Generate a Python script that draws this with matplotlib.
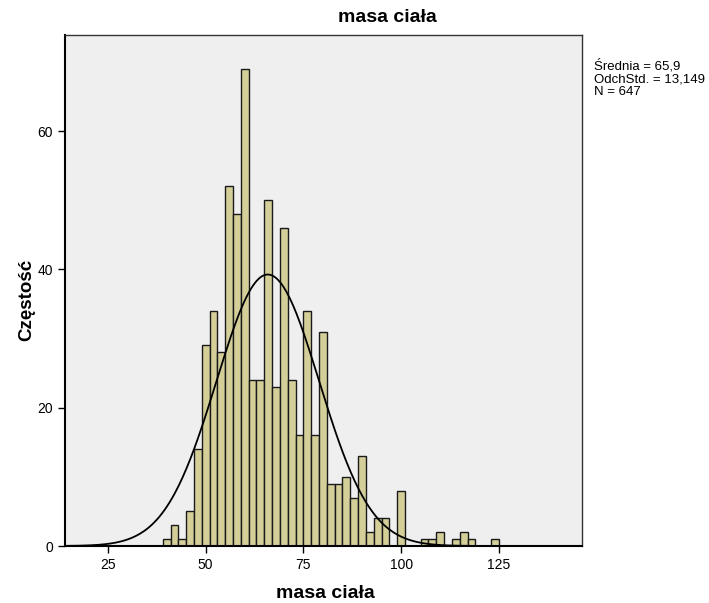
import numpy as np
import matplotlib.pyplot as plt

plt.rcParams['font.family'] = ['Liberation Sans', 'DejaVu Sans']

# histogram of body mass, bins 2 kg wide starting at 39
bin_edges = np.arange(39, 127, 2)
counts = [1, 3, 1, 5, 14, 29, 34, 28, 52, 48, 69, 24, 24, 50, 23, 46, 24, 16,
          34, 16, 31, 9, 9, 10, 7, 13, 2, 4, 4, 0, 8, 0, 0, 1, 1, 2, 0, 1, 2,
          1, 0, 0, 1]
mean = 65.9
std = 13.149
n = 647
xticks = [25, 50, 75, 100, 125]
yticks = [0, 20, 40, 60]

W, H = 709, 603
fig = plt.figure(figsize=(W / 100, H / 100), dpi=100)
fig.patch.set_facecolor('white')
left, right, top, bottom = 65, 582, 35, 546
ax = fig.add_axes([left / W, 1 - bottom / H, (right - left) / W, (bottom - top) / H])
ax.set_facecolor('#efefef')

ax.bar(bin_edges[:-1], counts, width=2, align='edge', color='#d4cf99',
       edgecolor='#1a1a1a', linewidth=1.0)

xs = np.linspace(14, 146, 400)
pdf = n * 2 / (std * np.sqrt(2 * np.pi)) * np.exp(-0.5 * ((xs - mean) / std) ** 2)
ax.plot(xs, pdf, color='black', linewidth=1.3)

ax.set_xlim(14, 146.3)
ax.set_ylim(0, 73.9)
ax.set_xticks(xticks)
ax.set_yticks(yticks)
ax.tick_params(axis='both', direction='out', length=5, width=1, labelsize=10,
               colors='black')
for s in ['top', 'right']:
    ax.spines[s].set_color('#333333')
    ax.spines[s].set_linewidth(1.0)
for s in ['left', 'bottom']:
    ax.spines[s].set_color('black')
    ax.spines[s].set_linewidth(1.5)

fig.text(387 / W, 1 - 18 / H, 'masa ciała', ha='center', va='center',
         fontsize=14, fontweight='bold')
fig.text(325 / W, 1 - 594 / H, 'masa ciała', ha='center', va='center',
         fontsize=14, fontweight='bold')
fig.text(27 / W, 1 - 300 / H, 'Częstość', ha='center', va='center',
         fontsize=13.5, fontweight='bold', rotation=90)
fig.text(594 / W, 1 - 59 / H, 'Średnia = 65,9\nOdchStd. = 13,149\nN = 647',
         ha='left', va='top', fontsize=9.5, linespacing=1.08)

fig.savefig('out.png', dpi=100)
